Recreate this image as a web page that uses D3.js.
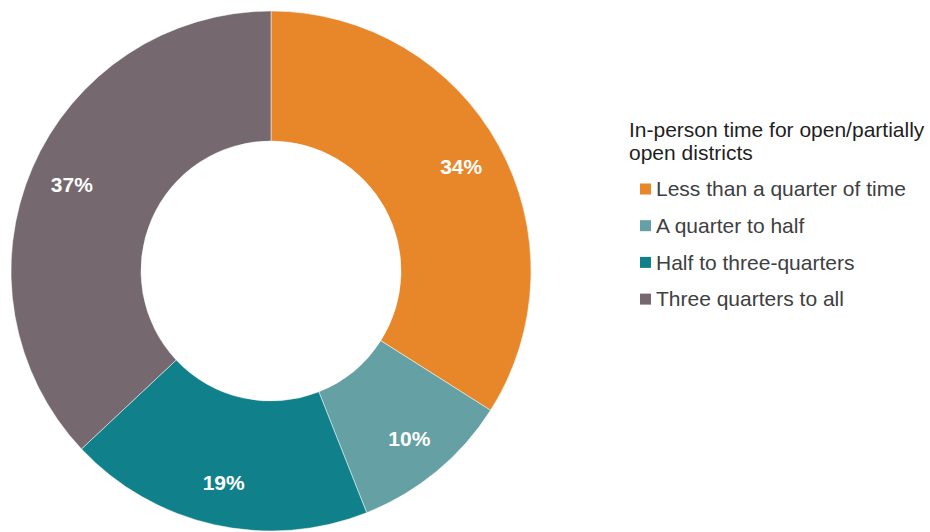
<!DOCTYPE html>
<html>
<head>
<meta charset="utf-8">
<script src="https://cdn.jsdelivr.net/npm/d3@7"></script>
<style>
  html, body { margin: 0; padding: 0; background: #ffffff; }
  svg { display: block; font-family: "Liberation Sans", Arial, sans-serif; }
</style>
</head>
<body>
<svg id="chart" width="930" height="532"></svg>
<script>
// In-person time shares for open / partially open districts
const categories = [
  "Less than a quarter of time",
  "A quarter to half",
  "Half to three-quarters",
  "Three quarters to all"
];
const values = [34, 10, 19, 37];
const colors = ["#E8862A", "#65A0A5", "#10818A", "#75686F"];
const legendTitle = ["In-person time for open/partially", "open districts"];

const svg = d3.select("#chart");
const cx = 271, cy = 271, outerR = 260, innerR = 130, labelR = 217;

const data = categories.map((c, i) => ({ name: c, value: values[i], color: colors[i] }));

const pie = d3.pie().value(d => d.value).sort(null);
const arc = d3.arc().innerRadius(innerR).outerRadius(outerR);
const labelArc = d3.arc().innerRadius(labelR).outerRadius(labelR);

const g = svg.append("g").attr("transform", `translate(${cx},${cy})`);
const arcs = pie(data);

g.selectAll("path.slice")
  .data(arcs)
  .join("path")
  .attr("class", "slice")
  .attr("d", arc)
  .attr("fill", d => d.data.color)
  .attr("stroke", "#ffffff")
  .attr("stroke-width", 0.5);

g.selectAll("text.pct")
  .data(arcs)
  .join("text")
  .attr("class", "pct")
  .attr("transform", d => `translate(${labelArc.centroid(d)})`)
  .attr("text-anchor", "middle")
  .attr("dy", "0.35em")
  .attr("fill", "#ffffff")
  .attr("font-weight", "bold")
  .attr("font-size", 21)
  .text(d => d.data.value + "%");

// Legend
const legend = svg.append("g").attr("transform", "translate(629,0)");
legend.selectAll("text.title")
  .data(legendTitle)
  .join("text")
  .attr("class", "title")
  .attr("x", 0)
  .attr("y", (d, i) => 137 + i * 22.5)
  .attr("font-size", 21)
  .attr("fill", "#1f1f1f")
  .text(d => d);

const items = legend.selectAll("g.item")
  .data(data)
  .join("g")
  .attr("class", "item")
  .attr("transform", (d, i) => `translate(0,${189 + i * 36.7})`);

items.append("rect")
  .attr("x", 11)
  .attr("y", -5.5)
  .attr("width", 11)
  .attr("height", 11)
  .attr("fill", d => d.color);

items.append("text")
  .attr("x", 27)
  .attr("y", 0)
  .attr("dy", "0.35em")
  .attr("font-size", 21)
  .attr("fill", "#404040")
  .text(d => d.name);
</script>
</body>
</html>
